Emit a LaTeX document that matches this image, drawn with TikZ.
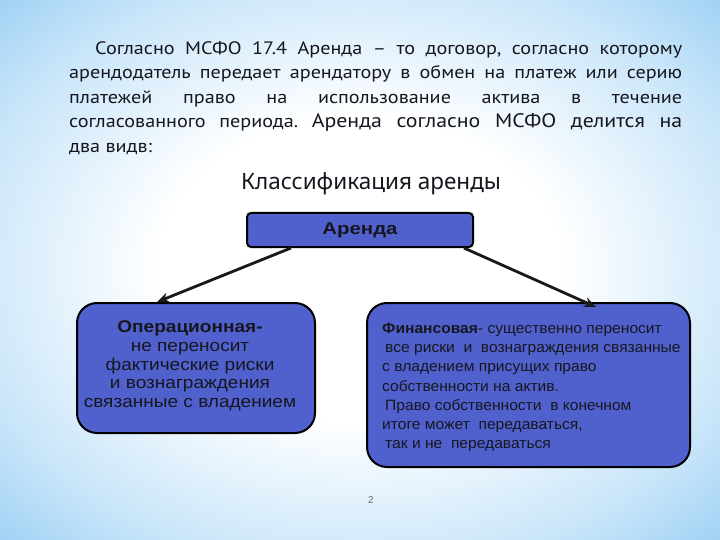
\documentclass[tikz,border=0pt]{standalone}
\usepackage{fontspec}
\setmainfont{Liberation Sans}
\newfontfamily\topfont[FakeStretch=1.12]{PT Sans}
\newfontfamily\boxfont[FakeStretch=1.2]{Liberation Sans}
\newfontfamily\lboxfont[FakeStretch=1.12]{Liberation Sans}
\newfontfamily\rboxfont[FakeStretch=1.04]{Liberation Sans}
\newfontfamily\titlefont{Noto Sans}
\usetikzlibrary{calc,arrows.meta}
\definecolor{bgblue}{RGB}{135,198,242}
\definecolor{boxblue}{RGB}{80,97,206}
\definecolor{txtdark}{RGB}{22,22,30}
\pgfdeclareradialshading{bgshade}{\pgfpoint{0bp}{0bp}}{color(0bp)=(white); color(14bp)=(white); color(28bp)=(bgblue!45!white); color(40bp)=(bgblue); color(100bp)=(bgblue)}
\tikzset{
  bigbox/.style={draw=black, line width=2pt, fill=boxblue, rounded corners=20pt},
  arr/.style={draw=black!90, line width=2.8pt, -{Stealth[length=12pt,width=10pt]}},
}
\frenchspacing
\begin{document}
\begin{tikzpicture}[x=1pt,y=-1pt]
\useasboundingbox (0,0) rectangle (720,540);
\shade[shading=bgshade] (0,0) rectangle (720,540);

\node[anchor=north west, text width=613pt, align=justify, inner sep=0pt, text=txtdark,
      font=\topfont\fontsize{18}{24.5}\selectfont] (para) at (69,41)
  {\hspace*{26pt}Согласно МСФО 17.4 Аренда – то договор, согласно которому\linebreak
   арендодатель передает арендатору в обмен на платеж или серию\linebreak
   платежей право на использование актива в течение\linebreak
   согласованного периода. {\fontsize{19.5}{24.5}\selectfont Аренда согласно МСФО делится на}\linebreak
   два видв:};

\node[text=txtdark, font=\titlefont\fontsize{22.5}{26}\selectfont] (title) at (371,184) {Классификация аренды};

\node[draw=black, line width=2pt, fill=boxblue, rounded corners=4pt, minimum width=226pt,
      minimum height=34pt, text=txtdark, font=\boxfont\bfseries\fontsize{17}{20}\selectfont] (arenda) at (360,230) {Аренда};

\node[bigbox, minimum width=238pt, minimum height=130pt] (oper) at (196,368) {};
\node[align=center, text=txtdark, font=\lboxfont\fontsize{17}{18.7}\selectfont] (opertxt) at (190,366)
  {\textbf{Операционная-}\\не переносит\\фактические риски\\и вознаграждения\\связанные с владением};

\node[bigbox, minimum width=323pt, minimum height=164pt] (fin) at (528.5,385) {};
\node[anchor=north west, align=left, inner sep=0pt, text=txtdark, font=\rboxfont\fontsize{15}{19.2}\selectfont] (fintxt) at (382,323)
  {\textbf{Финансовая}- существенно переносит\\
   \hspace*{3pt}все риски\ \ и\ \ вознаграждения связанные\\
   с владением присущих право\\
   собственности на актив.\\
   \hspace*{3pt}Право собственности\ \ в конечном\\
   итоге может\ \ передаваться,\\
   \hspace*{3pt}так и не\ \ передаваться};

\draw[arr] ($(arenda.south west)+(45,0)$) -- ($(oper.north west)+(81,0)$);
\draw[arr] ($(arenda.south east)+(-10,0)$) -- ($(fin.north west)+(230,5)$);

\node[text=black!60, font=\fontsize{10}{12}\selectfont] (pg) at (371,500) {2};
\end{tikzpicture}
\end{document}
